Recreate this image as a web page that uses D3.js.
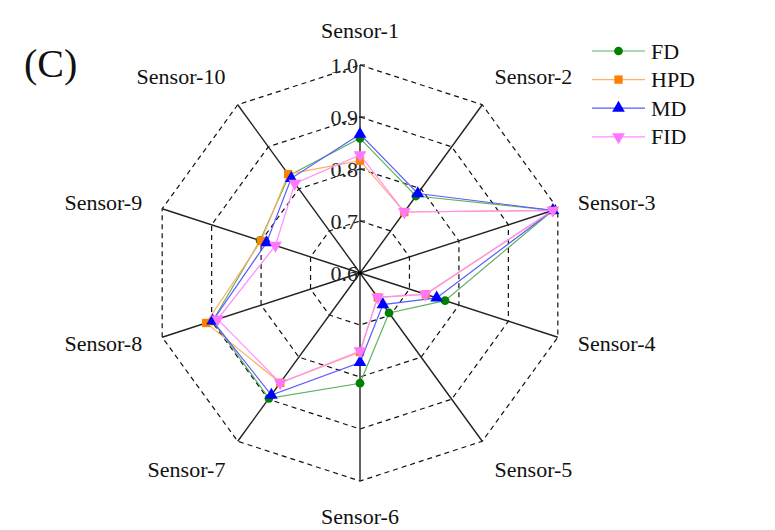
<!DOCTYPE html>
<html><head><meta charset="utf-8">
<script src="https://cdn.jsdelivr.net/npm/d3@7"></script>
<style>body{margin:0;background:#fff}</style>
</head><body>
<svg id="c" width="775" height="530"></svg>
<script>
const sensors = ["Sensor-1","Sensor-2","Sensor-3","Sensor-4","Sensor-5","Sensor-6","Sensor-7","Sensor-8","Sensor-9","Sensor-10"];
const FD  = [0.859,0.783,0.99,0.772,0.695,0.812,0.898,0.898,0.802,0.832];
const HPD = [0.816,0.745,0.99,0.733,0.658,0.752,0.861,0.911,0.800,0.835];
const MD  = [0.867,0.789,0.99,0.755,0.675,0.772,0.890,0.898,0.789,0.825];
const FID = [0.827,0.745,0.99,0.732,0.658,0.750,0.861,0.888,0.771,0.813];
const ticks = [0.6,0.7,0.8,0.9,1.0];
const tickLabels = ["0.6","0.7","0.8","0.9","1.0"];
const seriesNames = ["FD","HPD","MD","FID"];

const series = [
  {name:"FD", values:FD, line:"#5fb35f", mark:"#008000", shape:d3.symbolCircle, size:60, rot:0},
  {name:"HPD", values:HPD, line:"#ffb060", mark:"#ff7f00", shape:d3.symbolSquare, size:70, rot:0},
  {name:"MD", values:MD, line:"#5a5aff", mark:"#0000ff", shape:d3.symbolTriangle, size:70, rot:0},
  {name:"FID", values:FID, line:"#ff8cff", mark:"#ff77ff", shape:d3.symbolTriangle, size:70, rot:180}
];

const svg = d3.select("#c");
const cx = 360, cy = 273, R = 208;
const r = d3.scaleLinear().domain([0.6,1.0]).range([0,R]);
const ang = d3.scaleLinear().domain([0, sensors.length]).range([0, 2*Math.PI]);
const pt = (i, v) => [cx + r(v)*Math.sin(ang(i)), cy - r(v)*Math.cos(ang(i))];
const font = "'Liberation Serif','Times New Roman',serif";

// grid polygons
const g = svg.append("g");
ticks.slice(1).forEach(t => {
  g.append("path")
    .attr("d", d3.line()(sensors.map((s,i)=>pt(i,t))) + "Z")
    .attr("fill","none").attr("stroke","#111").attr("stroke-width",1.2)
    .attr("stroke-dasharray","5,4");
});
// axes
sensors.forEach((s,i)=>{
  const [x,y] = pt(i,1.0);
  g.append("line").attr("x1",cx).attr("y1",cy).attr("x2",x).attr("y2",y)
    .attr("stroke","#222").attr("stroke-width",1.4);
});
// ticks on sensor-1 axis
ticks.forEach((t,k)=>{
  const y = cy - r(t);
  if (k>0) g.append("line").attr("x1",cx).attr("x2",cx+5).attr("y1",y).attr("y2",y)
    .attr("stroke","#222").attr("stroke-width",1.2);
  g.append("text").attr("x",cx-2).attr("y",y).attr("text-anchor","end")
    .attr("dominant-baseline","central")
    .style("font-family",font).style("font-size","22px").style("fill","#222")
    .text(tickLabels[k]);
});
g.append("circle").attr("cx",cx).attr("cy",cy).attr("r",2).attr("fill","#000");

// series
series.forEach(s=>{
  const pts = s.values.map((v,i)=>pt(i,v));
  svg.append("path").attr("d", d3.line()(pts)+"Z")
    .attr("fill","none").attr("stroke",s.line).attr("stroke-width",1.2);
  svg.selectAll(null).data(pts).enter().append("path")
    .attr("d", d3.symbol().type(s.shape).size(s.size))
    .attr("transform", d=>`translate(${d[0]},${d[1]}) rotate(${s.rot})`)
    .attr("fill", s.mark);
});

// sensor labels
sensors.forEach((s,i)=>{
  const a = ang(i), sn = Math.sin(a), cs = Math.cos(a);
  const anchor = sn > 0.1 ? "start" : (sn < -0.1 ? "end" : "middle");
  const ky = Math.abs(cs) > 0.5 ? 243 : 229;
  const x = cx + 229*sn;
  const y = cy - ky*cs;
  svg.append("text").attr("x",x).attr("y",y)
    .style("font-family",font).style("font-size","22px").style("fill","#111")
    .attr("text-anchor",anchor).attr("dominant-baseline","central").text(s);
});

// legend
const lg = svg.append("g");
series.forEach((s,k)=>{
  const y = 51 + k*28.6;
  lg.append("line").attr("x1",592).attr("x2",645).attr("y1",y).attr("y2",y)
    .attr("stroke",s.line).attr("stroke-width",1.2);
  lg.append("path").attr("d", d3.symbol().type(s.shape).size(s.size))
    .attr("transform",`translate(618.5,${y}) rotate(${s.rot})`).attr("fill",s.mark);
  lg.append("text").attr("x",651).attr("y",y).attr("dominant-baseline","central")
    .style("font-family",font).style("font-size","22px").style("fill","#111")
    .text(seriesNames[k]);
});

// panel label
svg.append("text").attr("x",24).attr("y",63).attr("dominant-baseline","central")
  .style("font-family",font).style("font-size","40px").style("fill","#111").text("(C)");
</script>
</body></html>
